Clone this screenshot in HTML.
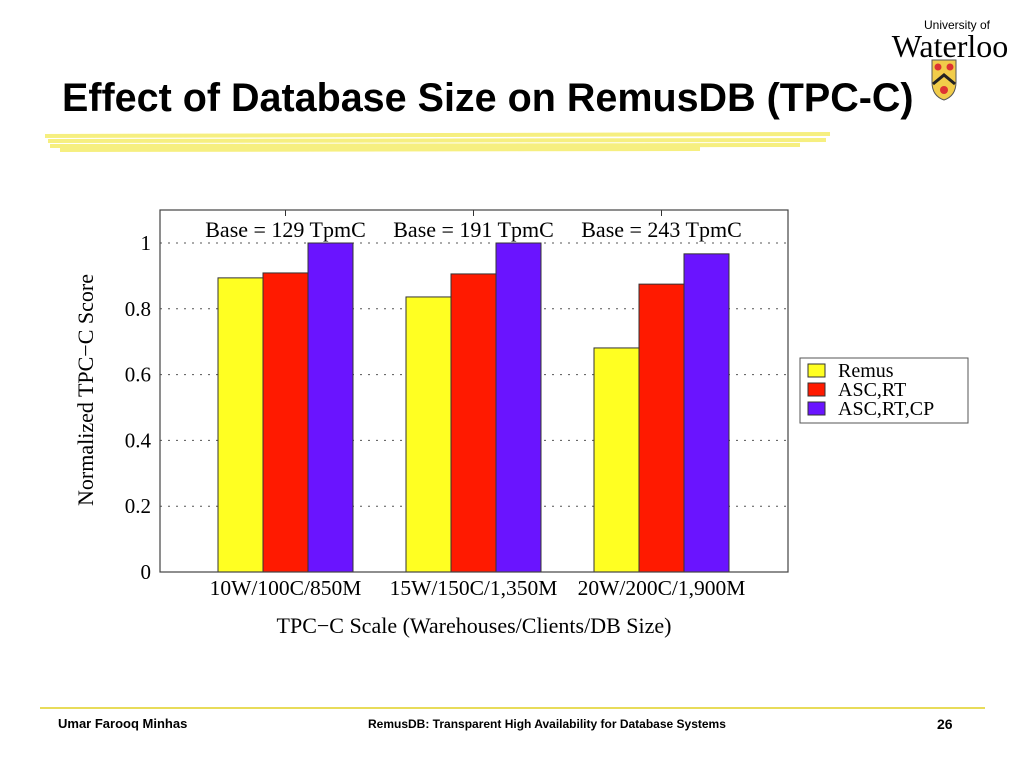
<!DOCTYPE html>
<html><head><meta charset="utf-8"><style>
body{margin:0;width:1024px;height:768px;background:#fff;position:relative;overflow:hidden;font-family:"Liberation Sans",sans-serif}
.title{position:absolute;left:62px;top:76px;font-size:39.5px;font-weight:bold;color:#000;white-space:nowrap}
.foot{position:absolute;top:716px;font-size:13px;font-weight:bold}
</style></head><body>
<div class="title">Effect of Database Size on RemusDB (TPC-C)</div>
<svg style="position:absolute;left:0;top:0" width="1024" height="768">
<path d="M45 136 L830 134 M48 141 L826 140 M50 146 L800 145 M60 150 L700 149" stroke="#f4ec6a" stroke-width="4" fill="none" opacity="0.85"/>
<line x1="40" y1="708" x2="985" y2="708" stroke="#e8dc5a" stroke-width="2"/>
</svg>
<div style="position:absolute;left:882px;top:18px;width:136px;text-align:center;font-family:'Liberation Serif',serif">
<div style="font-size:12px;font-family:'Liberation Sans',sans-serif;margin-left:14px">University of</div>
<div style="font-size:32px;line-height:28px">Waterloo</div>
</div>
<svg style="position:absolute;left:930px;top:58px" width="28" height="44"><path d="M2 2 H26 V24 Q26 38 14 42 Q2 38 2 24 Z" fill="#f1cc4a" stroke="#555"/><path d="M3 26 L14 17 L25 26" stroke="#222" stroke-width="3" fill="none"/><circle cx="8" cy="9" r="3.5" fill="#d33"/><circle cx="20" cy="9" r="3.5" fill="#d33"/><circle cx="14" cy="32" r="4" fill="#d33"/></svg>
<svg id="chart" style="position:absolute;left:0;top:0" width="1024" height="768" font-family="Liberation Serif, serif"></svg>
<div class="foot" style="left:58px">Umar Farooq Minhas</div>
<div class="foot" style="left:368px;font-size:12px;top:717px">RemusDB: Transparent High Availability for Database Systems</div>
<div class="foot" style="left:937px;font-size:14px">26</div>
<script>
const categories=["10W/100C/850M","15W/150C/1,350M","20W/200C/1,900M"];
const baseLabels=["Base = 129 TpmC","Base = 191 TpmC","Base = 243 TpmC"];
const seriesNames=["Remus","ASC,RT","ASC,RT,CP"];
const remus=[0.894,0.836,0.681];
const ascRt=[0.909,0.906,0.875];
const ascRtCp=[1.0,1.0,0.967];
const yTicks=[0,0.2,0.4,0.6,0.8,1];
const yTickLabels=["0","0.2","0.4","0.6","0.8","1"];
const colors=["#ffff22","#ff1a00","#6a14ff"];
const svg=document.getElementById('chart');const NS="http://www.w3.org/2000/svg";
function mk(t,a,txt){const e=document.createElementNS(NS,t);for(const k in a)e.setAttribute(k,a[k]);if(txt!=null)e.textContent=txt;svg.appendChild(e);return e;}
const L=160,R=788,T=210,B=572;
const y=v=>B-v*329;
const x=i=>285.5+188*i;
const BW=45;
yTicks.forEach((v,i)=>{
 if(v>0){const g=mk('line',{x1:L,x2:R,y1:y(v),y2:y(v),stroke:'#555','stroke-dasharray':'2,6'});}
 const t=mk('text',{x:L-9,y:y(v)+7,'text-anchor':'end','font-size':21},yTickLabels[i]);
 
});
const series=[remus,ascRt,ascRtCp];
categories.forEach((c,i)=>{
 series.forEach((s,j)=>{
  const r=mk('rect',{x:x(i)-1.5*BW+j*BW,y:y(s[i]),width:BW,height:B-y(s[i]),fill:colors[j],stroke:'#333','stroke-width':1});
  
 });
 const t=mk('text',{x:x(i),y:595,'text-anchor':'middle','font-size':21.5},c);
 
 const b=mk('text',{x:x(i),y:237,'text-anchor':'middle','font-size':22},baseLabels[i]);
 
 const tk=mk('line',{x1:x(i),x2:x(i),y1:T,y2:T+6,stroke:'#333'});
 
});
const fr=mk('rect',{x:L,y:T,width:R-L,height:B-T,fill:'none',stroke:'#444','stroke-width':1.2});

const yt=mk('text',{x:0,y:0,'text-anchor':'middle','font-size':22,transform:'translate(93,390) rotate(-90)'},'Normalized TPC\u2212C Score');

const xt=mk('text',{x:474,y:633,'text-anchor':'middle','font-size':22},'TPC\u2212C Scale (Warehouses/Clients/DB Size)');

const lg=mk('rect',{x:800,y:358,width:168,height:65,fill:'#fff',stroke:'#555'});

seriesNames.forEach((n,j)=>{
 const yy=364+j*19;
 const s=mk('rect',{x:808,y:yy,width:17,height:13,fill:colors[j],stroke:'#333'});
 
 const t=mk('text',{x:838,y:yy+13,'font-size':20},n);
 
});
</script>
</body></html>
